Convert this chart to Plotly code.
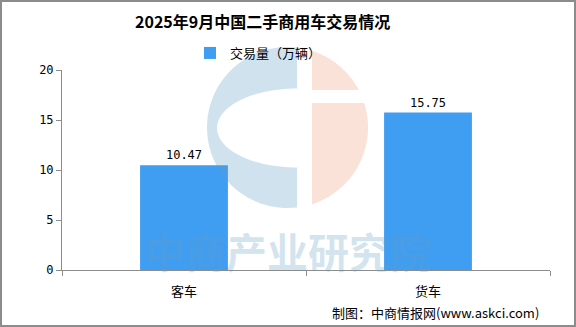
import numpy as np
import plotly.graph_objects as go

categories = ["客车", "货车"]
values = [10.47, 15.75]
value_labels = ["10.47", "15.75"]
series_name = "交易量（万辆）"
title_text = "2025年9月中国二手商用车交易情况"
source_text = "制图：中商情报网(www.askci.com)"
watermark_text = "中商产业研究院"
y_ticks = [0, 5, 10, 15, 20]

W, H = 576, 327
L, R, T, B = 62, 26, 70, 57
PW, PH = W - L - R, H - T - B

def px(x):
    return (x - L) / PW

def py(y):
    return (H - B - y) / PH

def path_from(points):
    s = "M " + " L ".join(f"{px(x):.5f},{py(y):.5f}" for x, y in points) + " Z"
    return s

# watermark logo (decorative)
cx, cy, Rr = 287.5, 127.5, 80.5
def circ(deg_from, deg_to, n=60):
    t = np.radians(np.linspace(deg_from, deg_to, n))
    return [(cx + Rr * np.cos(a), cy - Rr * np.sin(a)) for a in t]

th0 = np.degrees(np.arccos((297 - cx) / Rr))
blue_pts = circ(th0, 360 - th0)
ex, ey, ea, eb = 297, 128, 80, 39.5
phis = np.radians(np.linspace(270, 90, 60))
blue_pts += [(ex + ea * np.cos(p), ey - eb * np.sin(p)) for p in phis]

t1 = np.degrees(np.arccos((312 - cx) / Rr))
t2 = np.degrees(np.arcsin((cy - 90) / Rr))
t3 = np.degrees(np.arcsin((cy - 103) / Rr))
peach_top = circ(t1, t2) + [(312, 90)]
peach_bot = [(312, 103)] + circ(t3, -t1)

fig = go.Figure()
fig.add_trace(go.Bar(
    x=categories, y=values, name=series_name,
    marker=dict(color="#3f9df2", line=dict(width=0)),
    width=0.36,
    text=value_labels, textposition="outside",
    textfont=dict(family="DejaVu Sans Mono, monospace", size=12, color="#000"),
    cliponaxis=False,
    showlegend=True,
))

shapes = [
    dict(type="path", path=path_from(blue_pts), xref="paper", yref="paper",
         fillcolor="rgba(100,160,200,0.3)", line=dict(width=0), layer="above"),
    dict(type="path", path=path_from(peach_top), xref="paper", yref="paper",
         fillcolor="rgba(240,140,100,0.25)", line=dict(width=0), layer="above"),
    dict(type="path", path=path_from(peach_bot), xref="paper", yref="paper",
         fillcolor="rgba(240,140,100,0.25)", line=dict(width=0), layer="above"),
    dict(type="rect", xref="paper", yref="paper",
         x0=px(1), x1=px(575), y0=py(326), y1=py(1),
         line=dict(color="#8c8c8c", width=2), fillcolor="rgba(0,0,0,0)", layer="above"),
]

annotations = [
    dict(text=f"<b>{title_text}</b>", x=px(262), y=py(21), xref="paper", yref="paper",
         showarrow=False, xanchor="center", yanchor="middle",
         font=dict(family="Noto Sans CJK SC", size=16, color="#000")),
    dict(text=source_text, x=px(541), y=py(312), xref="paper", yref="paper",
         showarrow=False, xanchor="right", yanchor="middle",
         font=dict(family="Noto Sans CJK SC", size=13, color="#000")),
    dict(text=f"<b>{watermark_text}</b>", x=px(287), y=py(250), xref="paper", yref="paper",
         showarrow=False, xanchor="center", yanchor="middle",
         font=dict(family="Noto Sans CJK SC", size=41, color="rgba(100,160,200,0.3)")),
]

fig.update_layout(
    width=W, height=H,
    margin=dict(l=L, r=R, t=T, b=B),
    paper_bgcolor="white", plot_bgcolor="white",
    font=dict(family="Noto Sans CJK SC", size=12, color="#000"),
    bargap=0.64,
    showlegend=True,
    legend=dict(x=px(190), y=py(53), xanchor="left", yanchor="middle",
                orientation="h", font=dict(size=13, family="Noto Sans CJK SC"),
                itemwidth=30, bgcolor="rgba(0,0,0,0)"),
    xaxis=dict(showline=True, linecolor="#8c8c8c", linewidth=1,
               ticks="outside", tickson="boundaries", ticklen=5, tickcolor="#8c8c8c",
               showgrid=False, tickfont=dict(size=13), zeroline=False,
               ticklabelstandoff=9),
    yaxis=dict(range=[0, 20], tickvals=y_ticks, showline=True, linecolor="#8c8c8c",
               linewidth=1, ticks="outside", ticklen=5, tickcolor="#8c8c8c",
               showgrid=False, zeroline=False,
               tickfont=dict(family="DejaVu Sans Mono, monospace", size=12)),
    shapes=shapes,
    annotations=annotations,
)

fig.write_html("out.html")
